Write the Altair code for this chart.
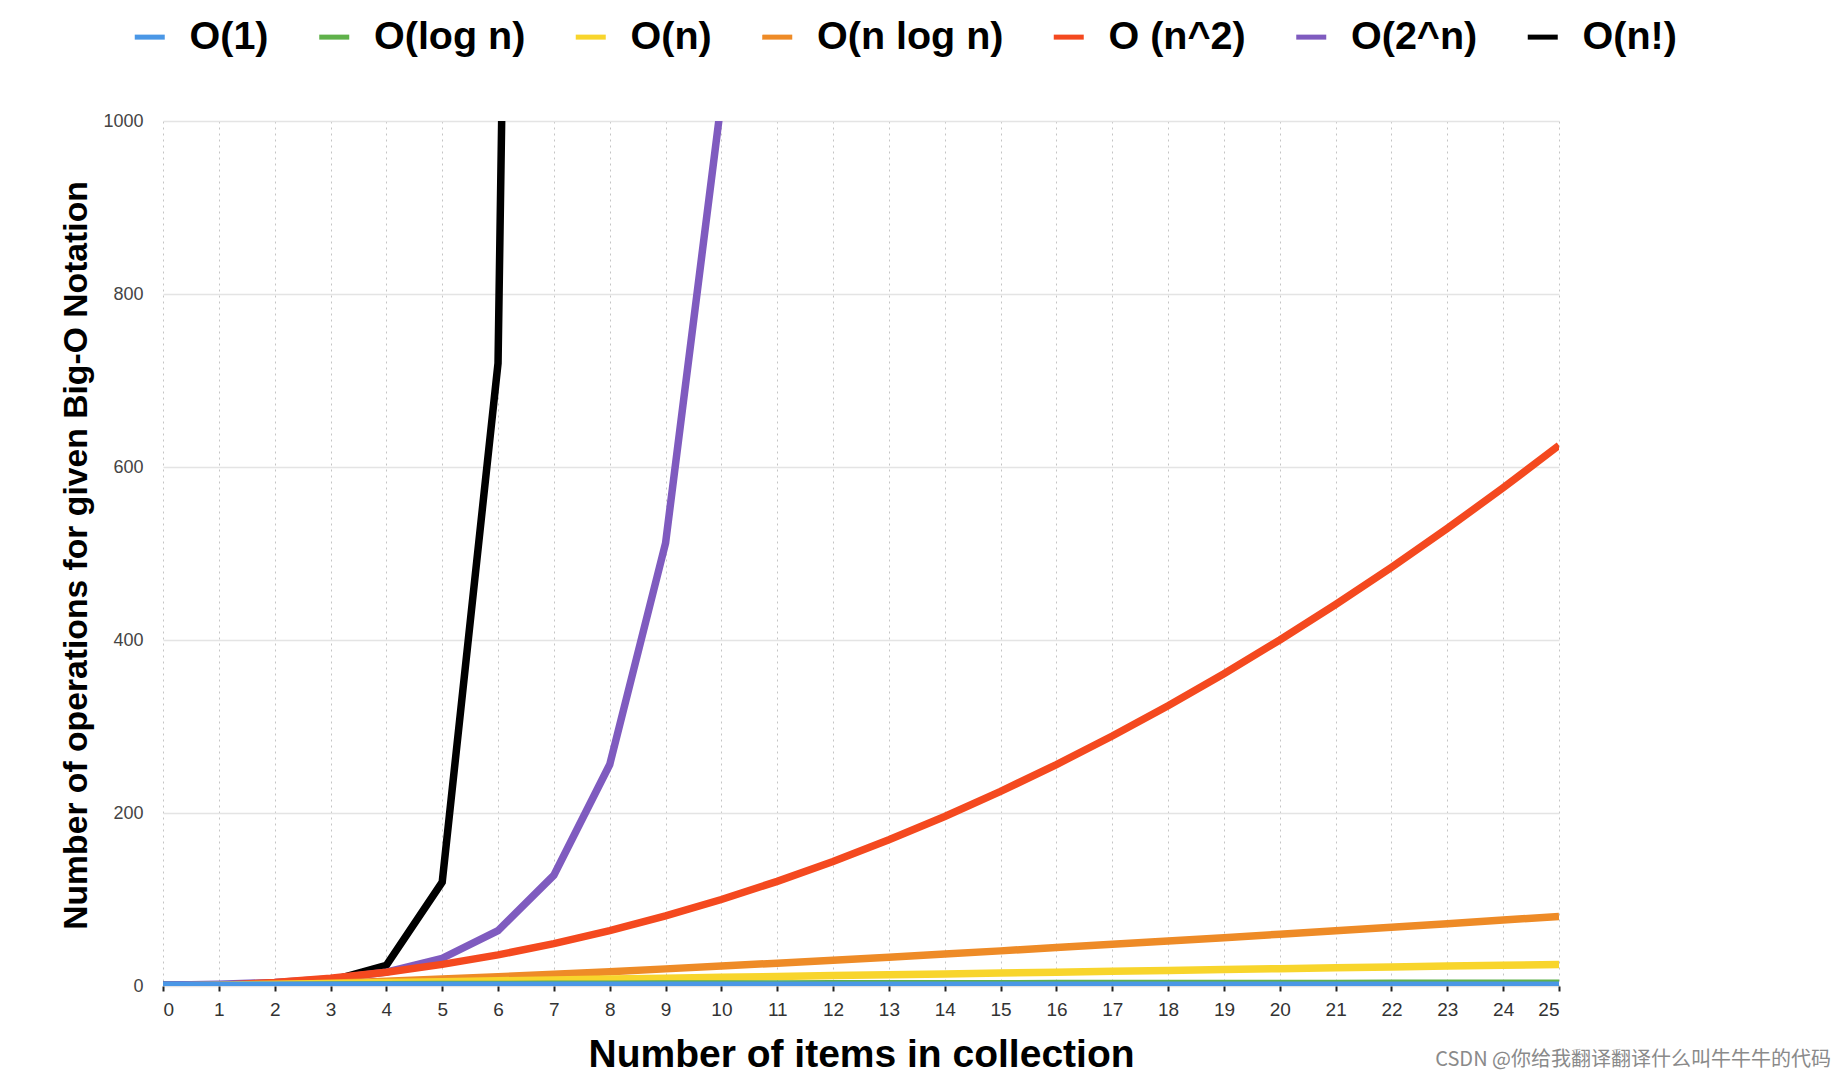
import altair as alt
import pandas as pd

# ---- data ----
n_values = list(range(26))

series_names = ["O(1)", "O(log n)", "O(n)", "O(n log n)", "O (n^2)", "O(2^n)", "O(n!)"]
series_colors = ["#4a97e6", "#5fb14a", "#f8d52c", "#ee8b27", "#f4491f", "#7f5bbf", "#000000"]

o_const = [1, 1, 1, 1, 1, 1, 1, 1, 1, 1, 1, 1, 1, 1, 1, 1, 1, 1, 1, 1, 1, 1, 1, 1, 1, 1]
o_log = [0, 0, 0.7, 1.1, 1.4, 1.6, 1.8, 1.9, 2.1, 2.2, 2.3, 2.4, 2.5, 2.6, 2.6, 2.7,
         2.8, 2.8, 2.9, 2.9, 3.0, 3.0, 3.1, 3.1, 3.2, 3.2]
o_linear = [0, 1, 2, 3, 4, 5, 6, 7, 8, 9, 10, 11, 12, 13, 14, 15, 16, 17, 18, 19, 20,
            21, 22, 23, 24, 25]
o_nlogn = [0, 0, 1.4, 3.3, 5.5, 8.0, 10.8, 13.6, 16.6, 19.8, 23.0, 26.4, 29.8, 33.3,
           36.9, 40.6, 44.4, 48.2, 52.0, 55.9, 59.9, 63.9, 68.0, 72.1, 76.3, 80.5]
o_square = [0, 1, 4, 9, 16, 25, 36, 49, 64, 81, 100, 121, 144, 169, 196, 225, 256, 289,
            324, 361, 400, 441, 484, 529, 576, 625]
o_exp = [1, 2, 4, 8, 16, 32, 64, 128, 256, 512, 1024]
o_fact = [1, 1, 2, 6, 24, 120, 720, 5040]

y_ticks = [0, 200, 400, 600, 800, 1000]
x_title = "Number of items in collection"
y_title = "Number of operations for given Big-O Notation"
watermark = "CSDN @你给我翻译翻译什么叫牛牛牛的代码"

series_values = [o_const, o_log, o_linear, o_nlogn, o_square, o_exp, o_fact]

rows = []
for name, vals in zip(series_names, series_values):
    for n, v in zip(n_values, vals):
        rows.append({"n": n, "ops": v, "series": name})
df = pd.DataFrame(rows)

FONT = "Liberation Sans"

color_scale = alt.Scale(domain=series_names, range=series_colors)
legend = alt.Legend(
    title=None,
    orient="none",
    direction="horizontal",
    columns=7,
    legendX=-33,
    legendY=-104,
    padding=0,
    columnPadding=39.5,
    labelOffset=20,
    symbolType="stroke",
    symbolSize=900,
    symbolStrokeWidth=5,
    labelFont=FONT,
    labelFontSize=39.5,
    labelFontWeight="bold",
    labelColor="#000000",
    labelLimit=600,
)

x_enc = alt.X(
    "n:Q",
    scale=alt.Scale(domain=[0, 25], nice=False),
    axis=alt.Axis(
        values=n_values,
        title=x_title,
        grid=True,
        gridColor="#c4c4c4",
        gridDash=[2, 4],
        gridWidth=1,
        domain=False,
        ticks=True,
        tickColor="#222222",
        tickSize=5,
        tickWidth=2,
        labelFont=FONT,
        labelFontSize=19,
        labelColor="#333333",
        labelPadding=9,
        titleFont=FONT,
        titleFontSize=39,
        titleFontWeight="bold",
        titleColor="#000000",
        titleY=80,
        titleBaseline="alphabetic",
    ),
)
y_enc = alt.Y(
    "ops:Q",
    scale=alt.Scale(domain=[0, 1000], nice=False),
    axis=alt.Axis(
        values=y_ticks,
        format="d",
        title=y_title,
        grid=True,
        gridColor="#e4e4e4",
        gridWidth=1.5,
        domain=False,
        ticks=False,
        labelFont=FONT,
        labelFontSize=18,
        labelColor="#444444",
        labelPadding=20,
        titleFont=FONT,
        titleFontSize=33.7,
        titleFontWeight="bold",
        titleColor="#000000",
        titleAngle=270,
        titleX=-77,
        titleY=434,
        titleAlign="center",
        titleBaseline="alphabetic",
    ),
)

layers = []
for name in reversed(series_names):
    layers.append(
        alt.Chart(df)
        .transform_filter(alt.datum.series == name)
        .mark_line(strokeWidth=7.5, clip=True)
        .encode(
            x=x_enc,
            y=y_enc,
            color=alt.Color("series:N", scale=color_scale, legend=legend),
        )
    )

wm = (
    alt.Chart(pd.DataFrame({"t": [watermark]}))
    .mark_text(align="right", baseline="middle", font="Noto Sans CJK SC",
               fontSize=20, color="#8a8a8a")
    .encode(x=alt.value(1668), y=alt.value(939), text="t:N")
)

chart = (
    alt.layer(*layers, wm)
    .properties(
        width=1396,
        height=865,
        padding={"left": 163, "top": 121, "right": 287, "bottom": 90},
        autosize=alt.AutoSizeParams(type="none"),
        background="#ffffff",
    )
    .configure_view(stroke="transparent")
)

chart.save("out.html", embed_options={"renderer": "svg", "actions": False})
